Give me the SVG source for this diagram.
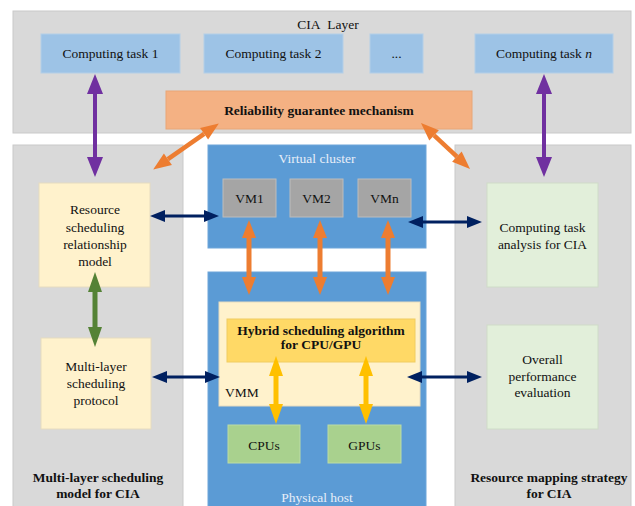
<svg xmlns="http://www.w3.org/2000/svg" width="635" height="506" viewBox="0 0 635 506">
<style>
text{font-family:"Liberation Serif","Times New Roman",serif;fill:#111111;font-size:13.5px}
.c{text-anchor:middle}
.b{font-weight:bold}
.w{fill:#e8eef8}
.panel{fill:#d9d9d9;stroke:#c9c9c9;stroke-width:1}
.blue{fill:#5b9bd5;stroke:#6ea6da;stroke-width:1}
.task{fill:#9dc3e6;stroke:#b4cfe8;stroke-width:1}
.vm{fill:#a5a5a5;stroke:#bdbdbd;stroke-width:1}
.cream{fill:#fff2cc;stroke:#e6dcc0;stroke-width:1}
.mint{fill:#e2efda;stroke:#cfdcc8;stroke-width:1}
.gold{fill:#ffd966;stroke:#f0cc60;stroke-width:1}
.pu{fill:#a9d18e;stroke:#bcdca6;stroke-width:1}
.orng{fill:#f4b183;stroke:#e9a676;stroke-width:1}
.a{fill:none}
</style>
<defs>
<marker id="mPur" markerUnits="userSpaceOnUse" viewBox="0 -8 20 16" markerWidth="20" markerHeight="16" refX="0" refY="0" orient="auto-start-reverse" overflow="visible"><path d="M0,-8 L20,0 L0,8 z" fill="#7030a0"/></marker>
<marker id="mOr" markerUnits="userSpaceOnUse" viewBox="0 -7 18 14" markerWidth="18" markerHeight="14" refX="0" refY="0" orient="auto-start-reverse" overflow="visible"><path d="M0,-7 L18,0 L0,7 z" fill="#ed7d31"/></marker>
<marker id="mGr" markerUnits="userSpaceOnUse" viewBox="0 -7 20 14" markerWidth="20" markerHeight="14" refX="0" refY="0" orient="auto-start-reverse" overflow="visible"><path d="M0,-7 L20,0 L0,7 z" fill="#548235"/></marker>
<marker id="mYe" markerUnits="userSpaceOnUse" viewBox="0 -7 20 14" markerWidth="20" markerHeight="14" refX="0" refY="0" orient="auto-start-reverse" overflow="visible"><path d="M0,-7 L20,0 L0,7 z" fill="#ffc000"/></marker>
<marker id="mNv" markerUnits="userSpaceOnUse" viewBox="0 -6 15 12" markerWidth="15" markerHeight="12" refX="0" refY="0" orient="auto-start-reverse" overflow="visible"><path d="M0,-6 L15,0 L0,6 z" fill="#002060"/></marker>
</defs>
<rect width="635" height="506" fill="#ffffff"/>

<g id="cia-layer">
<rect class="panel" x="13" y="11" width="618" height="122"/>
<text class="c" x="328" y="29">CIA&#160; Layer</text>
</g>
<g id="left-panel">
<rect class="panel" x="13" y="145" width="170" height="365"/>
<text class="c b" x="98" y="482">Multi-layer scheduling</text>
<text class="c b" x="98" y="498">model for CIA</text>
</g>
<g id="right-panel">
<rect class="panel" x="455" y="145" width="176" height="365"/>
<text class="c b" x="549" y="482">Resource mapping strategy</text>
<text class="c b" x="549" y="498">for CIA</text>
</g>
<g id="virtual-cluster">
<rect class="blue" x="208" y="145" width="218" height="103"/>
<text class="c w" x="317" y="163">Virtual cluster</text>
</g>
<g id="physical-host">
<rect class="blue" x="208" y="272" width="218" height="240"/>
<text class="c w" x="317" y="502">Physical host</text>
</g>

<g id="task1"><rect class="task" x="41" y="34" width="139" height="39"/><text class="c" x="110.5" y="58">Computing task 1</text></g>
<g id="task2"><rect class="task" x="204" y="34" width="139" height="39"/><text class="c" x="273.5" y="58">Computing task 2</text></g>
<g id="task-dots"><rect class="task" x="370" y="34" width="53" height="39"/><text class="c" x="396.5" y="58">...</text></g>
<g id="taskn"><rect class="task" x="475" y="34" width="138" height="39"/><text class="c" x="544" y="58">Computing task <tspan font-style="italic">n</tspan></text></g>

<g id="reliability"><rect class="orng" x="166" y="91" width="306" height="38"/><text class="c b" x="319" y="115" font-size="14">Reliability guarantee mechanism</text></g>

<g id="vm1"><rect class="vm" x="223" y="179" width="53" height="38"/><text class="c" x="249.5" y="203">VM1</text></g>
<g id="vm2"><rect class="vm" x="290" y="179" width="53" height="38"/><text class="c" x="316.5" y="203">VM2</text></g>
<g id="vmn"><rect class="vm" x="358" y="179" width="53" height="38"/><text class="c" x="384.5" y="203">VMn</text></g>

<g id="resource-model"><rect class="cream" x="39" y="183" width="111" height="104"/>
<text class="c" x="95" y="214">Resource</text><text class="c" x="95" y="232">scheduling</text><text class="c" x="95" y="249">relationship</text><text class="c" x="95" y="266">model</text></g>
<g id="protocol"><rect class="cream" x="41" y="338" width="110" height="91"/>
<text class="c" x="96" y="371">Multi-layer</text><text class="c" x="96" y="388">scheduling</text><text class="c" x="96" y="405">protocol</text></g>
<g id="task-analysis"><rect class="mint" x="487" y="183" width="111" height="104"/>
<text class="c" x="542.5" y="232">Computing task</text><text class="c" x="542.5" y="249">analysis for CIA</text></g>
<g id="overall"><rect class="mint" x="487" y="325" width="111" height="104"/>
<text class="c" x="542.5" y="364">Overall</text><text class="c" x="542.5" y="381">performance</text><text class="c" x="542.5" y="397">evaluation</text></g>

<g id="vmm"><rect class="cream" x="219" y="302" width="201" height="104"/><text x="225" y="397">VMM</text></g>
<g id="hybrid"><rect class="gold" x="227" y="319" width="188" height="43"/>
<text class="c b" x="321" y="335" font-size="12">Hybrid scheduling algorithm</text><text class="c b" x="321" y="349" font-size="12">for CPU/GPU</text></g>
<g id="cpus"><rect class="pu" x="228" y="425" width="72" height="38"/><text class="c" x="264" y="450">CPUs</text></g>
<g id="gpus"><rect class="pu" x="328" y="425" width="73" height="38"/><text class="c" x="364.5" y="450">GPUs</text></g>

<g id="connectors" class="a">
<path d="M95,94 V157" stroke="#7030a0" stroke-width="4" marker-start="url(#mPur)" marker-end="url(#mPur)"/>
<path d="M544,94 V157" stroke="#7030a0" stroke-width="4" marker-start="url(#mPur)" marker-end="url(#mPur)"/>
<path d="M167.9,159.2 L204.1,133.8" stroke="#ed7d31" stroke-width="4.5" marker-start="url(#mOr)" marker-end="url(#mOr)"/>
<path d="M434.1,135.3 L456.9,156.7" stroke="#ed7d31" stroke-width="4.5" marker-start="url(#mOr)" marker-end="url(#mOr)"/>
<path d="M249,238 V277" stroke="#ed7d31" stroke-width="5" marker-start="url(#mOr)" marker-end="url(#mOr)"/>
<path d="M320,238 V277" stroke="#ed7d31" stroke-width="5" marker-start="url(#mOr)" marker-end="url(#mOr)"/>
<path d="M388,238 V277" stroke="#ed7d31" stroke-width="5" marker-start="url(#mOr)" marker-end="url(#mOr)"/>
<path d="M95,292 V327" stroke="#548235" stroke-width="5" marker-start="url(#mGr)" marker-end="url(#mGr)"/>
<path d="M276,376 V404" stroke="#ffc000" stroke-width="5" marker-start="url(#mYe)" marker-end="url(#mYe)"/>
<path d="M366,376 V404" stroke="#ffc000" stroke-width="5" marker-start="url(#mYe)" marker-end="url(#mYe)"/>
<path d="M165,216 H204" stroke="#002060" stroke-width="3" marker-start="url(#mNv)" marker-end="url(#mNv)"/>
<path d="M423,222 H467" stroke="#002060" stroke-width="3" marker-start="url(#mNv)" marker-end="url(#mNv)"/>
<path d="M167,377 H205" stroke="#002060" stroke-width="3" marker-start="url(#mNv)" marker-end="url(#mNv)"/>
<path d="M422,377 H467" stroke="#002060" stroke-width="3" marker-start="url(#mNv)" marker-end="url(#mNv)"/>
</g>
</svg>
